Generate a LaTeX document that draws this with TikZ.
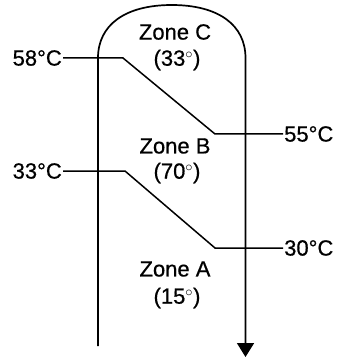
\documentclass[tikz,border=0pt]{standalone}
\usepackage{fontspec}
\setmainfont{Liberation Sans}
\usetikzlibrary{arrows.meta}
\begin{document}
\begin{tikzpicture}[x=1pt,y=-1pt,
  lbl/.style={font=\fontsize{22}{24}\selectfont\addfontfeatures{FakeBold=0.6}, inner sep=1pt},
  wall/.style={line width=1.7pt},
  temp/.style={line width=1.5pt}]
\useasboundingbox (0,0) rectangle (340,358);
% tank outline with outlet arrow
\coordinate (bl) at (98,346);
\coordinate (tl) at (98,58);
\coordinate (top) at (171.75,5);
\coordinate (tr) at (245.5,58);
\coordinate (out) at (245.5,357);
\draw[wall, -{Triangle[width=17pt,length=14pt]}] (bl) -- (tl)
  .. controls (98,25) and (125,5) .. (top)
  .. controls (218.5,5) and (245.5,25) .. (tr) -- (out);
% zone labels
\node[lbl] (zc) at (175,32) {Zone C};
\node[lbl] (zct) at (177,60) {(33$^\circ$)};
\node[lbl] (zb) at (175,146) {Zone B};
\node[lbl] (zbt) at (177,173) {(70$^\circ$)};
\node[lbl] (za) at (175,269) {Zone A};
\node[lbl] (zat) at (177,298) {(15$^\circ$)};
% temperatures
\node[lbl, anchor=east] (t58) at (63,58) {58°C};
\node[lbl, anchor=west] (t55) at (283,134) {55°C};
\node[lbl, anchor=east] (t33) at (63,171) {33°C};
\node[lbl, anchor=west] (t30) at (283,248) {30°C};
\coordinate (a1) at (123,58);
\coordinate (a2) at (215,134);
\coordinate (b1) at (125,171);
\coordinate (b2) at (215,248);
\draw[temp] (t58.east) -- (a1) -- (a2) -- (t55.west);
\draw[temp] (t33.east) -- (b1) -- (b2) -- (t30.west);
\end{tikzpicture}
\end{document}
